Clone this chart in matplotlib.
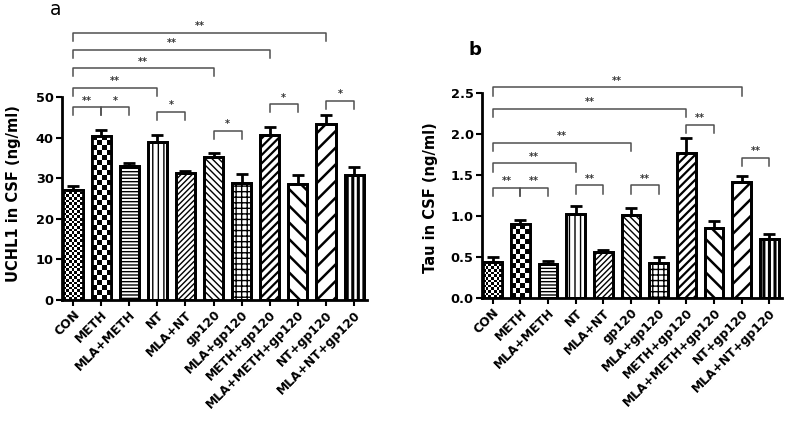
import numpy as np
import matplotlib.pyplot as plt

plt.rcParams['font.family'] = ['DejaVu Sans']

groups = ['CON', 'METH', 'MLA+METH', 'NT', 'MLA+NT', 'gp120', 'MLA+gp120',
          'METH+gp120', 'MLA+METH+gp120', 'NT+gp120', 'MLA+NT+gp120']
uchl1 = [27.1, 40.4, 33.0, 38.9, 31.4, 35.3, 28.9, 40.6, 28.5, 43.3, 30.7]
uchl1_sem = [1.0, 1.5, 0.8, 1.8, 0.4, 0.8, 2.1, 2.1, 2.2, 2.3, 2.0]
tau = [0.44, 0.90, 0.415, 1.02, 0.565, 1.01, 0.43, 1.765, 0.857, 1.41, 0.72]
tau_sem = [0.06, 0.05, 0.04, 0.105, 0.02, 0.085, 0.07, 0.185, 0.083, 0.08, 0.057]

# (left bar, right bar, height, stars)
uchl1_sig = [(0, 9, 65.8, '**'), (0, 7, 61.6, '**'), (0, 5, 57.1, '**'),
             (0, 3, 52.2, '**'), (0, 1, 47.5, '**'), (1, 2, 47.5, '*'),
             (3, 4, 46.4, '*'), (5, 6, 41.6, '*'), (7, 8, 48.2, '*'),
             (9, 10, 49.1, '*')]
tau_sig = [(0, 9, 2.565, '**'), (0, 7, 2.30, '**'), (0, 5, 1.886, '**'),
           (0, 3, 1.64, '**'), (0, 1, 1.34, '**'), (1, 2, 1.34, '**'),
           (3, 4, 1.37, '**'), (5, 6, 1.37, '**'), (7, 8, 2.11, '**'),
           (9, 10, 1.71, '**')]

# hatch, hatch linewidth ; 'check' patterns are drawn as images (cell size px)
patterns = [('check', 2.6), ('check', 5.0), ('-----', 1.0), ('|||', 1.0),
            ('//////', 1.0), ('\\\\\\\\\\', 1.0), ('+++', 1.0), ('////', 1.6),
            ('\\\\', 1.8), ('//', 1.8), ('|||', 2.2)]


def checker(ax, bar, cell):
    x0, y0 = bar.get_x(), bar.get_y()
    w, h = bar.get_width(), bar.get_height()
    (px0, py0), (px1, py1) = ax.transData.transform([(x0, y0), (x0 + w, y0 + h)])
    nx = max(1, int(round((px1 - px0) / cell)))
    ny = max(1, int(round((py1 - py0) / cell)))
    grid = (np.add.outer(np.arange(ny), np.arange(nx)) % 2).astype(float)
    im = ax.imshow(grid, cmap='gray', extent=(x0, x0 + w, y0, y0 + h),
                   origin='lower', aspect='auto', interpolation='nearest',
                   zorder=2.5)
    im.set_clip_path(bar)


def panel(ax, vals, errs, sig, ylim, yticks, fmt, ylabel, label_xy, tick_len):
    x = np.arange(len(vals))
    ax.set_xlim(-0.39, 10.46)
    ax.set_ylim(*ylim)
    bars = ax.bar(x, vals, width=0.68, color='white', edgecolor='black',
                  linewidth=2, zorder=2)
    for b, (h, lw) in zip(bars, patterns):
        if h == 'check':
            checker(ax, b, lw)
        else:
            b.set_hatch(h)
            try:
                b.set_hatch_linewidth(lw)
            except AttributeError:
                pass
    ax.bar(x, vals, width=0.68, fill=False, edgecolor='black', linewidth=2, zorder=3)
    ax.errorbar(x, vals, yerr=[np.zeros(len(vals)), errs], fmt='none',
                ecolor='black', elinewidth=2, capsize=4.5, capthick=2, zorder=4)
    ax.set_xlim(-0.39, 10.46)
    ax.set_ylim(*ylim)
    ax.set_yticks(yticks)
    ax.set_yticklabels([fmt % t for t in yticks], fontweight='bold', fontsize=9.3)
    ax.set_xticks(x)
    ax.set_xticklabels(groups, rotation=45, ha='right', rotation_mode='anchor',
                       fontweight='bold', fontsize=8.8)
    ax.set_ylabel(ylabel, fontweight='bold', fontsize=10.5)
    ax.yaxis.set_label_coords(*label_xy)
    for s in ['top', 'right']:
        ax.spines[s].set_visible(False)
    for s in ['left', 'bottom']:
        ax.spines[s].set_linewidth(2)
    ax.tick_params(width=1.5, length=4, pad=2)
    for i, j, y, stars in sig:
        ax.plot([i, i, j, j], [y - tick_len, y, y, y - tick_len], color='#505050',
                linewidth=1.1, clip_on=False, zorder=5)
        ax.text((i + j) / 2, y + tick_len * 0.2, stars, ha='center', va='bottom',
                fontsize=7, fontweight='bold', color='#333333', clip_on=False)


fig = plt.figure(figsize=(7.87, 4.22), dpi=100)
ax1 = fig.add_axes([62 / 787, 122 / 422, 305 / 787, 203 / 422])
ax2 = fig.add_axes([482 / 787, 124 / 422, 300 / 787, 205.3 / 422])

panel(ax1, uchl1, uchl1_sem, uchl1_sig, (0, 50), [0, 10, 20, 30, 40, 50], '%d',
      'UCHL1 in CSF (ng/ml)', (-0.134, 0.522), 2.0)
panel(ax2, tau, tau_sem, tau_sig, (0, 2.5), [0, 0.5, 1.0, 1.5, 2.0, 2.5], '%.1f',
      'Tau in CSF (ng/ml)', (-0.147, 0.488), 0.1)

fig.text(50 / 787, 1 - 15 / 422, 'a', fontsize=13.5, va='baseline')
fig.text(468 / 787, 1 - 55 / 422, 'b', fontsize=13, fontweight='bold', va='baseline')

fig.savefig('out.png', dpi=100)
